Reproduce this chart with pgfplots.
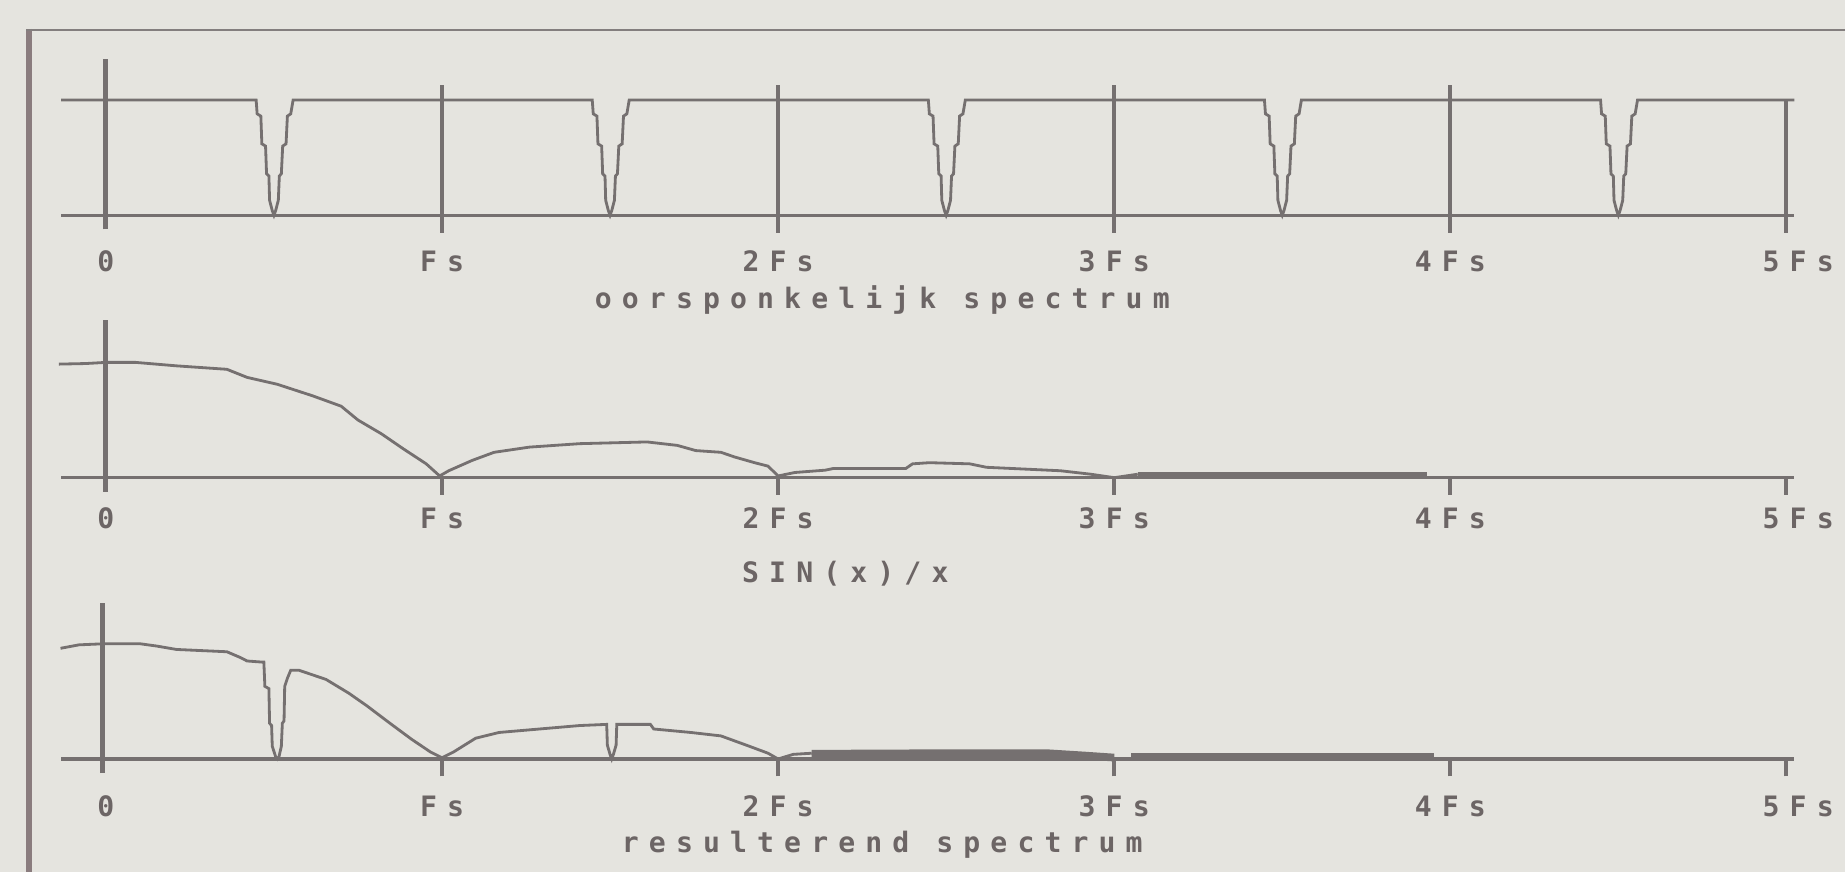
\documentclass[border=0pt]{standalone}
\usepackage{pgfplots}
\pgfplotsset{compat=1.18}
\usepackage{fontspec}
\setmonofont{DejaVu Sans Mono}
\newfontfamily\dotfont[LetterSpace=36]{DejaVu Sans Mono Bold}

\definecolor{paper}{HTML}{E5E4DF}
\definecolor{ink}{HTML}{757070}
\definecolor{txt}{HTML}{6C6565}
\definecolor{frame}{HTML}{8A7C7E}

\pgfplotsset{
  panel/.style={hide axis, scale only axis, width=173.33mm, height=17.12mm,
    xmin=-0.133, xmax=5.024, ymin=-0.125, ymax=1.36, clip=false, anchor=south west},
  curve/.style={draw=ink, line width=0.8pt, mark=none, line join=miter},
  base/.style={draw=ink, line width=0.9pt, mark=none},
  tickline/.style={draw=ink, line width=1.1pt, mark=none},
}
\tikzset{lbl/.style={font=\dotfont\fontsize{8}{9}\selectfont, text=txt}}

\begin{document}
\begin{tikzpicture}[x=0.1mm,y=0.1mm]
\fill[paper] (0,0) rectangle (1845,872);
\useasboundingbox (0,0) rectangle (1845,872);
% page frame
\draw[frame, line width=1.7pt] (29.4,843) -- (29.4,0);
\draw[ink!90, line width=0.8pt] (26,842) -- (1845,842);

% ---------- original spectrum ----------
\begin{axis}[panel, at={(6.12mm,64.23mm)}]
\addplot[base] coordinates {(-0.133,0) (5.024,0)};
\addplot[tickline, line width=1.4pt] coordinates {(0,-0.123) (0,1.357)};
\addplot[tickline] coordinates {(1,-0.15) (1,1.13)};
\addplot[tickline] coordinates {(2,-0.15) (2,1.13)};
\addplot[tickline] coordinates {(3,-0.15) (3,1.13)};
\addplot[tickline] coordinates {(4,-0.15) (4,1.13)};
\addplot[tickline] coordinates {(5,-0.15) (5,1.0)};
\addplot[curve] coordinates {
(-0.133,1) (0.447,1) (0.450,0.88) (0.461,0.86) (0.464,0.62) (0.475,0.60) (0.478,0.36) (0.485,0.34) (0.487,0.13) (0.495,0.04) (0.5,0)
(0.505,0.04) (0.513,0.13) (0.516,0.34) (0.522,0.36) (0.526,0.60) (0.536,0.62) (0.540,0.86) (0.550,0.88) (0.557,1)
(1.447,1) (1.450,0.88) (1.461,0.86) (1.464,0.62) (1.475,0.60) (1.478,0.36) (1.485,0.34) (1.487,0.13) (1.495,0.04) (1.5,0)
(1.505,0.04) (1.513,0.13) (1.516,0.34) (1.522,0.36) (1.526,0.60) (1.536,0.62) (1.540,0.86) (1.550,0.88) (1.557,1)
(2.447,1) (2.450,0.88) (2.461,0.86) (2.464,0.62) (2.475,0.60) (2.478,0.36) (2.485,0.34) (2.487,0.13) (2.495,0.04) (2.5,0)
(2.505,0.04) (2.513,0.13) (2.516,0.34) (2.522,0.36) (2.526,0.60) (2.536,0.62) (2.540,0.86) (2.550,0.88) (2.557,1)
(3.447,1) (3.450,0.88) (3.461,0.86) (3.464,0.62) (3.475,0.60) (3.478,0.36) (3.485,0.34) (3.487,0.13) (3.495,0.04) (3.5,0)
(3.505,0.04) (3.513,0.13) (3.516,0.34) (3.522,0.36) (3.526,0.60) (3.536,0.62) (3.540,0.86) (3.550,0.88) (3.557,1)
(4.447,1) (4.450,0.88) (4.461,0.86) (4.464,0.62) (4.475,0.60) (4.478,0.36) (4.485,0.34) (4.487,0.13) (4.495,0.04) (4.5,0)
(4.505,0.04) (4.513,0.13) (4.516,0.34) (4.522,0.36) (4.526,0.60) (4.536,0.62) (4.540,0.86) (4.550,0.88) (4.557,1)
(5.024,1)};
\node[lbl] at (axis cs:0,-0.40) {0};
\node[lbl] at (axis cs:1,-0.40) {Fs};
\node[lbl] at (axis cs:2,-0.40) {2Fs};
\node[lbl] at (axis cs:3,-0.40) {3Fs};
\node[lbl] at (axis cs:4,-0.40) {4Fs};
\node[lbl] at (axis cs:5.035,-0.40) {5Fs};
\node[lbl] at (axis cs:2.31,-0.735) {oorsponkelijk spectrum};
\end{axis}

% ---------- sin(x)/x ----------
\begin{axis}[panel, at={(6.12mm,37.99mm)}]
\addplot[base] coordinates {(-0.133,0) (5.024,0)};
\addplot[tickline, line width=1.4pt] coordinates {(0,-0.123) (0,1.368)};
\addplot[tickline] coordinates {(1,-0.15) (1,0)};
\addplot[tickline] coordinates {(2,-0.15) (2,0)};
\addplot[tickline] coordinates {(3,-0.15) (3,0)};
\addplot[tickline] coordinates {(4,-0.15) (4,0)};
\addplot[tickline] coordinates {(5,-0.15) (5,0)};
\addplot[curve] coordinates {
(-0.14,0.985) (-0.06,0.99) (0,1.0) (0.088,1.0) (0.21,0.97) (0.36,0.94) (0.42,0.87) (0.51,0.81)
(0.615,0.71) (0.70,0.62) (0.75,0.50) (0.82,0.38) (0.885,0.25) (0.953,0.12) (0.993,0.015)
(1.02,0.06) (1.09,0.15) (1.155,0.22) (1.26,0.265) (1.41,0.295) (1.61,0.31) (1.70,0.28)
(1.755,0.235) (1.83,0.22) (1.87,0.18) (1.93,0.13) (1.97,0.10) (2.0,0.015) (2.05,0.045)
(2.14,0.065) (2.165,0.08) (2.38,0.08) (2.40,0.12) (2.45,0.13) (2.57,0.12) (2.62,0.09)
(2.84,0.06) (2.93,0.03) (3.0,0.0) (3.07,0.03)};
\addplot[curve, line width=1.5pt] coordinates {(3.07,0.025) (3.93,0.025)};
\node[lbl] at (axis cs:0,-0.35) {0};
\node[lbl] at (axis cs:1,-0.35) {Fs};
\node[lbl] at (axis cs:2,-0.35) {2Fs};
\node[lbl] at (axis cs:3,-0.35) {3Fs};
\node[lbl] at (axis cs:4,-0.35) {4Fs};
\node[lbl] at (axis cs:5.035,-0.35) {5Fs};
\node[lbl] at (axis cs:2.2,-0.83) {SIN(x)/x};
\end{axis}

% ---------- resulting spectrum ----------
\begin{axis}[panel, at={(6.12mm,9.86mm)}]
\addplot[base] coordinates {(-0.133,0) (5.024,0)};
\addplot[tickline, line width=1.4pt] coordinates {(-0.01,-0.122) (-0.01,1.357)};
\addplot[tickline] coordinates {(1,-0.15) (1,0)};
\addplot[tickline] coordinates {(2,-0.15) (2,0)};
\addplot[tickline] coordinates {(3,-0.15) (3,0)};
\addplot[tickline] coordinates {(4,-0.15) (4,0)};
\addplot[tickline] coordinates {(5,-0.15) (5,0)};
\addplot[curve] coordinates {
(-0.135,0.96) (-0.08,0.99) (0,1.0) (0.1,1.0) (0.15,0.98) (0.21,0.95) (0.36,0.93) (0.40,0.88)
(0.42,0.85) (0.466,0.84) (0.470,0.84) (0.473,0.63) (0.485,0.61) (0.487,0.31) (0.493,0.29)
(0.495,0.11) (0.505,0.02) (0.51,0) (0.515,0.02) (0.522,0.11) (0.525,0.31) (0.53,0.33)
(0.532,0.63) (0.54,0.70) (0.55,0.77) (0.574,0.77) (0.655,0.69) (0.723,0.57) (0.777,0.46)
(0.845,0.31) (0.91,0.17) (0.966,0.06) (1.0,0.01) (1.034,0.06) (1.10,0.18) (1.17,0.23)
(1.29,0.26) (1.41,0.29) (1.49,0.30) (1.492,0.12) (1.50,0.04) (1.505,0) (1.51,0.04)
(1.518,0.12) (1.52,0.30) (1.62,0.30) (1.63,0.26) (1.74,0.23) (1.83,0.20) (1.91,0.115)
(1.97,0.05) (2.0,0.0) (2.045,0.04) (2.10,0.05)};
\addplot[curve, line width=2.2pt] coordinates {(2.10,0.045) (2.5,0.05) (2.8,0.05) (2.91,0.03) (3.0,0.012)};
\addplot[curve, line width=1.8pt] coordinates {(3.05,0.022) (3.95,0.022)};
\node[lbl] at (axis cs:0,-0.41) {0};
\node[lbl] at (axis cs:1,-0.41) {Fs};
\node[lbl] at (axis cs:2,-0.41) {2Fs};
\node[lbl] at (axis cs:3,-0.41) {3Fs};
\node[lbl] at (axis cs:4,-0.41) {4Fs};
\node[lbl] at (axis cs:5.035,-0.41) {5Fs};
\node[lbl] at (axis cs:2.31,-0.745) {resulterend spectrum};
\end{axis}
\end{tikzpicture}
\end{document}
